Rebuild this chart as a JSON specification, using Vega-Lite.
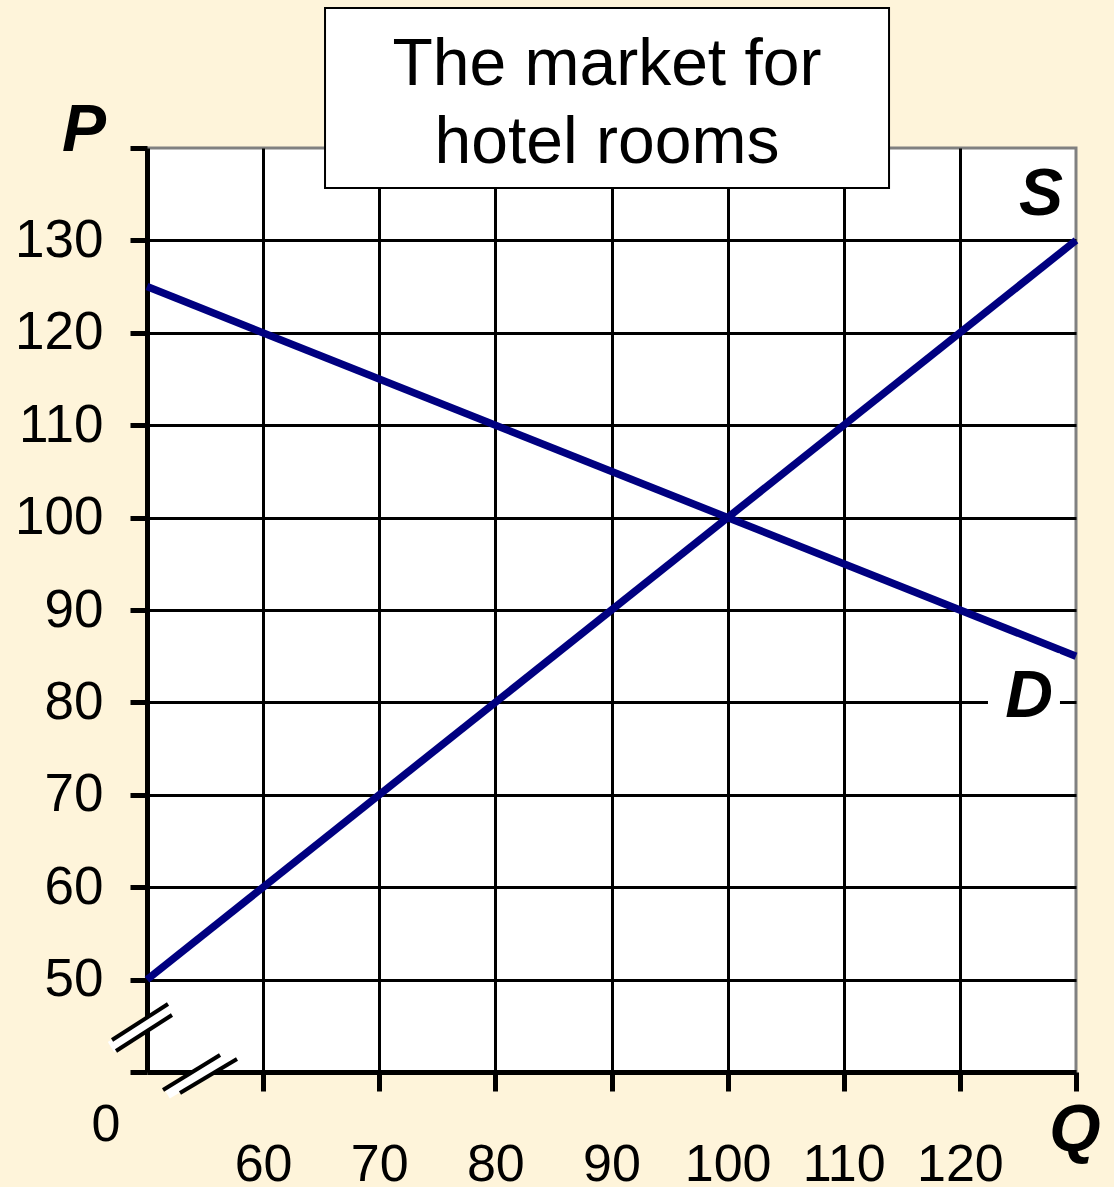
{
  "$schema": "https://vega.github.io/schema/vega-lite/v6.json",
  "width": 929,
  "height": 924,
  "autosize": {"type": "none"},
  "padding": {"left": 147, "top": 148, "right": 38, "bottom": 115},
  "background": "#FEF4DA",
  "config": {
    "view": {"fill": "white", "stroke": "#808080", "strokeWidth": 3},
    "font": "Liberation Sans"
  },
  "encoding": {
    "x": {
      "field": "q",
      "type": "quantitative",
      "scale": {"domain": [50, 130], "nice": false, "zero": false},
      "axis": {
        "title": null,
        "values": [60, 70, 80, 90, 100, 110, 120, 130],
        "labelExpr": "datum.value < 125 ? datum.label : ''",
        "labelFont": "Liberation Sans",
        "labelFontSize": 52,
        "labelColor": "black",
        "labelPadding": 48,
        "labelFlush": false,
        "labelOverlap": false,
        "tickSize": 19,
        "tickWidth": 5,
        "tickColor": "black",
        "domainColor": "black",
        "domainWidth": 5,
        "gridColor": "black",
        "gridWidth": 3,
        "gridOpacity": {"condition": {"test": "datum.value >= 130", "value": 0}, "value": 1}
      }
    },
    "y": {
      "field": "p",
      "type": "quantitative",
      "scale": {"domain": [40, 140], "nice": false, "zero": false},
      "axis": {
        "title": null,
        "values": [40, 50, 60, 70, 80, 90, 100, 110, 120, 130, 140],
        "labelExpr": "datum.value >= 50 && datum.value <= 130 ? datum.label : ''",
        "labelFont": "Liberation Sans",
        "labelFontSize": 53,
        "labelColor": "black",
        "labelPadding": 27,
        "labelFlush": false,
        "labelOverlap": false,
        "tickSize": 17,
        "tickWidth": 5,
        "tickColor": "black",
        "domainColor": "black",
        "domainWidth": 5,
        "gridColor": "black",
        "gridWidth": 3,
        "gridOpacity": {"condition": {"test": "datum.value <= 40 || datum.value >= 140", "value": 0}, "value": 1}
      }
    }
  },
  "layer": [
    {
      "data": {"values": [
        {"curve": "S", "q": 50, "p": 50},
        {"curve": "S", "q": 130, "p": 130},
        {"curve": "D", "q": 50, "p": 125},
        {"curve": "D", "q": 130, "p": 85}
      ]},
      "mark": {"type": "line", "color": "#000080", "strokeWidth": 7.5},
      "encoding": {"detail": {"field": "curve"}}
    },
    {
      "data": {"values": [{"q": 122.42, "q2": 128.62, "p": 85.3, "p2": 75.4}]},
      "mark": {"type": "rect", "fill": "white"},
      "encoding": {"x2": {"field": "q2"}, "y2": {"field": "p2"}}
    },
    {
      "data": {"values": [{"q": 65.33, "q2": 113.9, "p": 155.15, "p2": 135.67}]},
      "mark": {"type": "rect", "fill": "white", "stroke": "black", "strokeWidth": 2},
      "encoding": {"x2": {"field": "q2"}, "y2": {"field": "p2"}}
    },
    {
      "data": {"values": [
        {"text": "The market for", "q": 89.61, "p": 149.0},
        {"text": "hotel rooms", "q": 89.61, "p": 140.5}
      ]},
      "mark": {"type": "text", "fontSize": 66, "color": "black", "align": "center", "baseline": "middle", "font": "Liberation Sans"},
      "encoding": {"text": {"field": "text"}}
    },
    {
      "data": {"values": [
        {"text": "P", "q": 44.57, "p": 141.84},
        {"text": "S", "q": 126.99, "p": 134.91},
        {"text": "D", "q": 125.95, "p": 80.58},
        {"text": "Q", "q": 129.91, "p": 33.6}
      ]},
      "mark": {"type": "text", "fontSize": 66, "fontWeight": "bold", "fontStyle": "italic", "color": "black", "align": "center", "baseline": "middle", "font": "Liberation Sans"},
      "encoding": {"text": {"field": "text"}}
    },
    {
      "data": {"values": [{"text": "0", "q": 46.47, "p": 34.26}]},
      "mark": {"type": "text", "fontSize": 52, "color": "black", "align": "center", "baseline": "middle", "font": "Liberation Sans"},
      "encoding": {"text": {"field": "text"}}
    },
    {
      "data": {"values": [
        {"q": 46.9, "p": 42.7, "q2": 51.98, "p2": 46.71},
        {"q": 51.7, "p": 37.7, "q2": 56.98, "p2": 41.62}
      ]},
      "mark": {"type": "rule", "color": "white", "strokeWidth": 12, "strokeCap": "butt"},
      "encoding": {"x2": {"field": "q2"}, "y2": {"field": "p2"}}
    },
    {
      "data": {"values": [
        {"q": 46.99, "p": 43.46, "q2": 51.81, "p2": 47.36},
        {"q": 47.33, "p": 42.27, "q2": 52.15, "p2": 46.17},
        {"q": 51.38, "p": 38.05, "q2": 56.29, "p2": 41.84},
        {"q": 52.84, "p": 37.73, "q2": 57.75, "p2": 41.41}
      ]},
      "mark": {"type": "rule", "color": "black", "strokeWidth": 4, "strokeCap": "butt"},
      "encoding": {"x2": {"field": "q2"}, "y2": {"field": "p2"}}
    }
  ]
}
